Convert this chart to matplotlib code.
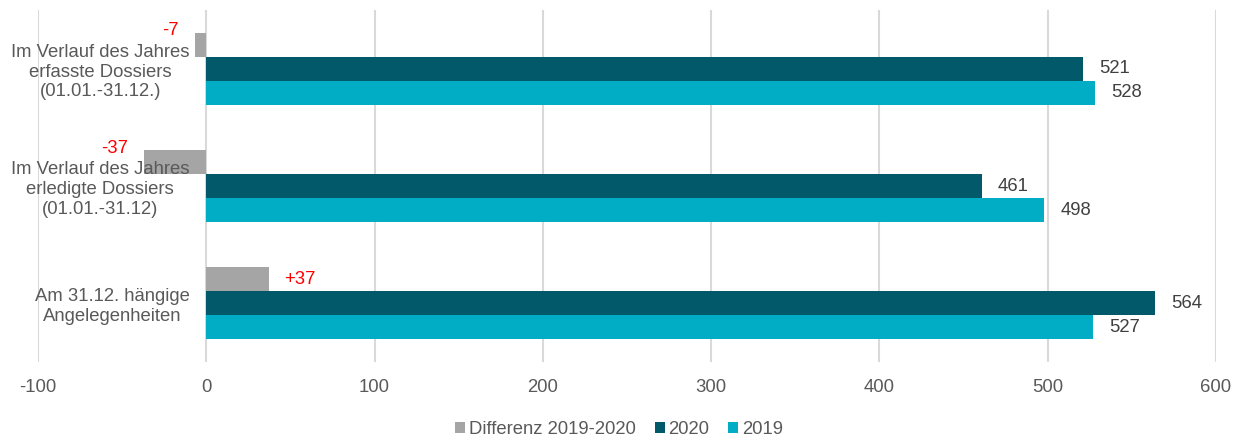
import matplotlib.pyplot as plt
import numpy as np

plt.rcParams['font.family'] = ['Liberation Sans', 'DejaVu Sans']
plt.rcParams['axes.unicode_minus'] = False

categories = ['Im Verlauf des Jahres\nerfasste Dossiers\n(01.01.-31.12.)',
              'Im Verlauf des Jahres\nerledigte Dossiers\n(01.01.-31.12)',
              'Am 31.12. hängige\nAngelegenheiten']
diff = [-7, -37, 37]
v2020 = [521, 461, 564]
v2019 = [528, 498, 527]
diff_labels = ['-7', '-37', '+37']
xticks = list(range(-100, 601, 100))

c_diff = '#A5A5A5'
c_2020 = '#02596A'
c_2019 = '#00ADC4'
c_text = '#595959'
fs = 13.3

fig = plt.figure(figsize=(12.38, 4.41), dpi=100)
ax = fig.add_axes([0.0307, 0.179, 0.9515, 0.798])

y = np.arange(len(categories))
h = 0.205

# Gitterlinien unter den Balken, Achsenbeschriftung darueber
for xt in xticks:
    ax.axvline(xt, color='#D9D9D9', linewidth=1.5, zorder=0)

b_diff = ax.barh(y - h, diff, height=h, color=c_diff, label='Differenz 2019-2020')
b_2020 = ax.barh(y, v2020, height=h, color=c_2020, label='2020')
b_2019 = ax.barh(y + h, v2019, height=h, color=c_2019, label='2019')

# Beschriftungen der Jahreswerte rechts neben den Balken
for bars, vals in ((b_2020, v2020), (b_2019, v2019)):
    for bar, v in zip(bars, vals):
        ax.annotate(str(v), xy=(v, bar.get_y() + bar.get_height() / 2),
                    xytext=(16, 0), textcoords='offset pixels',
                    ha='left', va='center', fontsize=fs, color='#404040')

# Differenzen in Rot
for bar, v, lab in zip(b_diff, diff, diff_labels):
    yc = bar.get_y() + bar.get_height() / 2
    if v < 0:
        ax.annotate(lab, xy=(v, yc), xytext=(-16, 14), textcoords='offset pixels',
                    ha='right', va='center', fontsize=fs, color='red')
    else:
        ax.annotate(lab, xy=(v, yc), xytext=(16, 0), textcoords='offset pixels',
                    ha='left', va='center', fontsize=fs, color='red')

ax.set_xlim(-100, 600)
ax.set_ylim(len(categories) - 0.5, -0.5)
ax.set_xticks(xticks)
ax.set_axisbelow(False)

ax.spines['left'].set_position(('data', 0))
for s in ['left', 'right', 'top', 'bottom']:
    ax.spines[s].set_visible(False)

ax.set_yticks(y)
ax.set_yticklabels(categories, multialignment='center')
ax.tick_params(axis='y', length=0, pad=12, labelsize=fs, labelcolor=c_text)
ax.tick_params(axis='x', length=0, pad=12, labelsize=fs, labelcolor=c_text)

fig.legend(handles=[b_diff, b_2020, b_2019], loc='lower center',
           bbox_to_anchor=(0.5, -0.03), ncol=3, frameon=False, fontsize=fs,
           labelcolor=c_text, handlelength=0.55, handleheight=0.55,
           handletextpad=0.2, columnspacing=1.0)

fig.savefig('out.png', dpi=100)
